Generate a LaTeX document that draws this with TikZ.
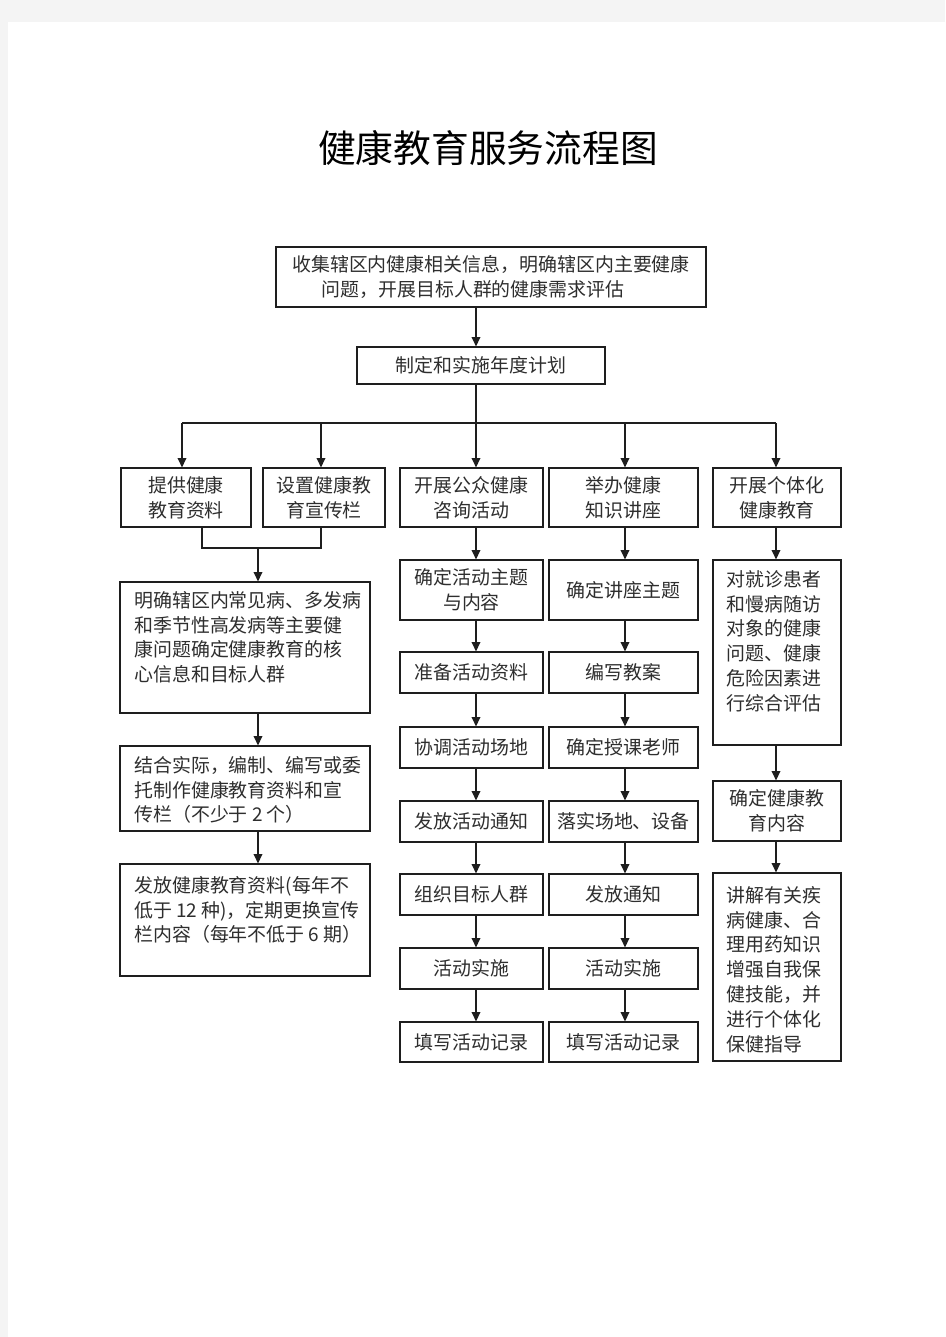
\documentclass[tikz,border=0pt]{standalone}
\usepackage{fontspec}
\newfontfamily\cjk{Noto Sans CJK SC}
\usetikzlibrary{arrows.meta}
\definecolor{pagebg}{HTML}{F4F4F4}
\definecolor{ink}{HTML}{1E1E1E}
\definecolor{txtc}{HTML}{2E2E2E}
\begin{document}
\begin{tikzpicture}[x=0.75pt,y=-0.75pt,
  bodyfont/.style={font=\cjk\fontsize{14.2pt}{18.6pt}\selectfont},
  box/.style={draw=ink, line width=0.9pt, inner sep=0pt, align=center, bodyfont, text=txtc},
  sz/.style 2 args={minimum width=#1*0.75pt, minimum height=#2*0.75pt},
  txt/.style={inner sep=0pt, align=left, bodyfont, text=txtc, anchor=north west},
  arr/.style={draw=ink, line width=1pt, -{Triangle[length=7pt,width=6.5pt]}},
  ln/.style={draw=ink, line width=0.9pt}]
\fill[pagebg] (0,0) rectangle (945,1337);
\fill[white] (8,22) rectangle (945,1337);
\useasboundingbox (0,0) rectangle (945,1337);

% title
\node[font=\cjk\fontsize{28.3pt}{30pt}\selectfont, text=black, inner sep=0pt] (title) at (488,148) {健康教育服务流程图};

% column x positions
\coordinate (xA) at (182,0);
\coordinate (xS) at (321,0);
\coordinate (xB) at (476,0);
\coordinate (xC) at (625,0);
\coordinate (xD) at (776,0);
\coordinate (xL) at (258,0);
\coordinate (xA2) at (202,0);

% top boxes
\node[box, sz={430}{60}, align=left] (top) at (491,277) {收集辖区内健康相关信息，明确辖区内主要健康\\\hspace*{1.55em}问题，开展目标人群的健康需求评估};
\node[box, sz={248}{37}] (plan) at (481,365.5) {制定和实施年度计划};

% second row
\node[box, sz={130}{59}] (A1) at (186,497.5) {提供健康\\教育资料};
\node[box, sz={122}{59}] (A2) at (324,497.5) {设置健康教\\育宣传栏};
\node[box, sz={143}{59}] (B) at (471.5,497.5) {开展公众健康\\咨询活动};
\node[box, sz={149}{59}] (C) at (623.5,497.5) {举办健康\\知识讲座};
\node[box, sz={128}{59}] (D) at (777,497.5) {开展个体化\\健康教育};

% left column
\node[box, sz={250}{131}] (E) at (245,647.5) {};
\node[txt] (Et) at (134,591) {明确辖区内常见病、多发病\\和季节性高发病等主要健\\康问题确定健康教育的核\\心信息和目标人群};
\node[box, sz={250}{85}] (F) at (245,788.5) {};
\node[txt] (Ft) at (134,756) {结合实际，编制、编写或委\\托制作健康教育资料和宣\\传栏（不少于 2 个）};
\node[box, sz={250}{112}] (G) at (245,920) {};
\node[txt] (Gt) at (134,876) {发放健康教育资料(每年不\\低于 12 种)，定期更换宣传\\栏内容（每年不低于 6 期）};

% column B
\node[box, sz={143}{60}] (B1) at (471.5,590) {确定活动主题\\与内容};
\node[box, sz={143}{41}] (B2) at (471.5,672.5) {准备活动资料};
\node[box, sz={143}{41}] (B3) at (471.5,747.5) {协调活动场地};
\node[box, sz={143}{41}] (B4) at (471.5,821.5) {发放活动通知};
\node[box, sz={143}{41}] (B5) at (471.5,894.5) {组织目标人群};
\node[box, sz={143}{41}] (B6) at (471.5,968.5) {活动实施};
\node[box, sz={143}{40}] (B7) at (471.5,1042) {填写活动记录};

% column C
\node[box, sz={149}{60}] (C1) at (623.5,590) {确定讲座主题};
\node[box, sz={149}{41}] (C2) at (623.5,672.5) {编写教案};
\node[box, sz={149}{41}] (C3) at (623.5,747.5) {确定授课老师};
\node[box, sz={149}{41}] (C4) at (623.5,821.5) {落实场地、设备};
\node[box, sz={149}{41}] (C5) at (623.5,894.5) {发放通知};
\node[box, sz={149}{41}] (C6) at (623.5,968.5) {活动实施};
\node[box, sz={149}{40}] (C7) at (623.5,1042) {填写活动记录};

% column D
\node[box, sz={128}{185}] (D1) at (777,652.5) {};
\node[txt] (D1t) at (726,570) {对就诊患者\\和慢病随访\\对象的健康\\问题、健康\\危险因素进\\行综合评估};
\node[box, sz={128}{60}] (D2) at (777,811) {确定健康教\\育内容};
\node[box, sz={128}{188}] (D3) at (777,967) {};
\node[txt] (D3t) at (726,886) {讲解有关疾\\病健康、合\\理用药知识\\增强自我保\\健技能，并\\进行个体化\\保健指导};

% connectors top
\draw[arr] (top.south -| xB) -- (plan.north -| xB);
\coordinate (busB) at (476,423);
\draw[ln] (plan.south -| xB) -- (busB);
\draw[ln] (busB -| xA) -- (busB -| xD);
\draw[arr] (busB -| xA) -- (A1.north -| xA);
\draw[arr] (busB -| xS) -- (A2.north -| xS);
\draw[arr] (busB) -- (B.north -| xB);
\draw[arr] (busB -| xC) -- (C.north -| xC);
\draw[arr] (busB -| xD) -- (D.north -| xD);

% left bracket
\coordinate (brk) at (258,548);
\draw[ln] (A1.south -| xA2) -- (brk -| xA2) -- (brk -| xS) -- (A2.south -| xS);
\draw[arr] (brk) -- (E.north -| xL);
\draw[arr] (E.south -| xL) -- (F.north -| xL);
\draw[arr] (F.south -| xL) -- (G.north -| xL);

% column B arrows
\draw[arr] (B.south -| xB) -- (B1.north -| xB);
\draw[arr] (B1.south -| xB) -- (B2.north -| xB);
\draw[arr] (B2.south -| xB) -- (B3.north -| xB);
\draw[arr] (B3.south -| xB) -- (B4.north -| xB);
\draw[arr] (B4.south -| xB) -- (B5.north -| xB);
\draw[arr] (B5.south -| xB) -- (B6.north -| xB);
\draw[arr] (B6.south -| xB) -- (B7.north -| xB);

% column C arrows
\draw[arr] (C.south -| xC) -- (C1.north -| xC);
\draw[arr] (C1.south -| xC) -- (C2.north -| xC);
\draw[arr] (C2.south -| xC) -- (C3.north -| xC);
\draw[arr] (C3.south -| xC) -- (C4.north -| xC);
\draw[arr] (C4.south -| xC) -- (C5.north -| xC);
\draw[arr] (C5.south -| xC) -- (C6.north -| xC);
\draw[arr] (C6.south -| xC) -- (C7.north -| xC);

% column D arrows
\draw[arr] (D.south -| xD) -- (D1.north -| xD);
\draw[arr] (D1.south -| xD) -- (D2.north -| xD);
\draw[arr] (D2.south -| xD) -- (D3.north -| xD);
\end{tikzpicture}
\end{document}
